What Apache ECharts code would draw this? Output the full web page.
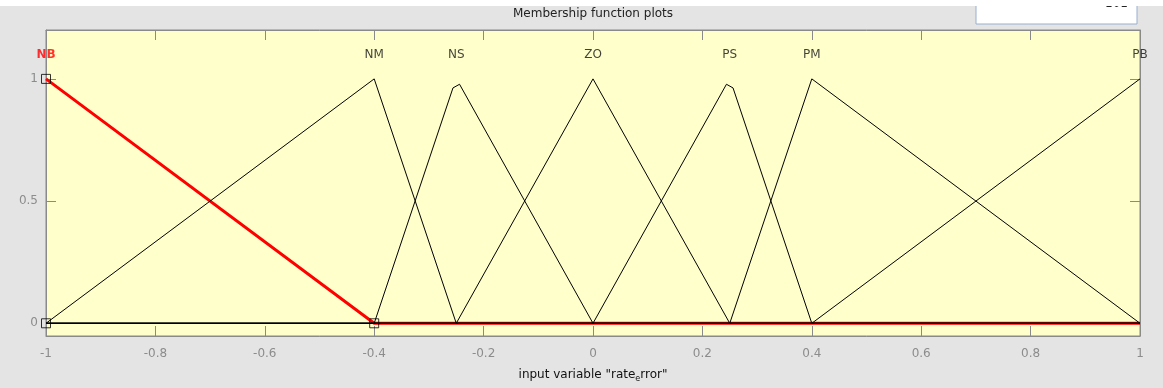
<!DOCTYPE html>
<html>
<head>
<meta charset="utf-8">
<script src="https://cdn.jsdelivr.net/npm/echarts@6/dist/echarts.min.js"></script>
<style>
  html, body { margin: 0; padding: 0; background: #e4e4e4; }
  #chart { width: 1163px; height: 388px; }
</style>
</head>
<body>
<div id="chart"></div>
<script>
// membership functions, [x, mu] vertices
const mfNames = ['NB', 'NM', 'NS', 'ZO', 'PS', 'PM', 'PB']
const mfPeaks = [-1, -0.4, -0.25, 0, 0.25, 0.4, 1]
const nbPoints = [[-1, 1], [-0.4, 0], [1, 0]]
const nmPoints = [[-1, 0], [-0.4, 1], [-0.25, 0], [1, 0]]
const nsPoints = [[-1, 0], [-0.4, 0], [-0.256, 0.963], [-0.244, 0.978], [0, 0], [1, 0]]
const zoPoints = [[-1, 0], [-0.25, 0], [0, 1], [0.25, 0], [1, 0]]
const psPoints = [[-1, 0], [0, 0], [0.244, 0.978], [0.256, 0.963], [0.4, 0], [1, 0]]
const pmPoints = [[-1, 0], [0.25, 0], [0.4, 1], [1, 0]]
const pbPoints = [[-1, 0], [0.4, 0], [1, 1]]
// square handles of the selected function (NB)
const handlePoints = [[-1, 1], [-1, 0], [-0.4, 0]]
const yTicks = [0, 0.5, 1]

const chart = echarts.init(document.getElementById('chart'))
const font = 'DejaVu Sans, Verdana, sans-serif'
const axisGray = '#8a8a8a'

function blackLine(points) {
  return {
    type: 'line',
    data: points,
    symbol: 'none',
    z: 3,
    lineStyle: { color: '#000', width: 1 },
    silent: true
  }
}

function frameAxis(pos, isX) {
  const axis = {
    type: 'value',
    position: pos,
    splitLine: { show: false },
    axisLine: { show: true, onZero: false, lineStyle: { color: axisGray } },
    axisTick: { show: true, inside: true, length: 10, lineStyle: { color: axisGray } },
    axisLabel: { show: false }
  }
  if (isX) {
    axis.min = -1
    axis.max = 1
    axis.interval = 0.2
  } else {
    axis.min = -0.052
    axis.max = 1.2
    axis.axisTick.customValues = yTicks
  }
  return axis
}

const bottomAxis = frameAxis('bottom', true)
bottomAxis.axisLabel = { show: true, color: '#8c8c8c', fontSize: 12, fontFamily: font, margin: 12 }
bottomAxis.name = 'input variable "rate{sub|e}rror"'
bottomAxis.nameLocation = 'middle'
bottomAxis.nameGap = 30
bottomAxis.nameTextStyle = {
  color: '#111',
  fontSize: 12,
  fontFamily: font,
  rich: { sub: { fontSize: 8, fontFamily: font, color: '#111', padding: [9, 0, 0, 0] } }
}

const leftAxis = frameAxis('left', false)
leftAxis.axisLabel = { show: true, color: '#8c8c8c', fontSize: 12, fontFamily: font, margin: 8, customValues: yTicks }

const labelData = mfPeaks.map((x, i) => ({ value: [x, 1.1], name: mfNames[i] }))
labelData[0].label = { color: '#ff0000', fontWeight: 'bold' }

const option = {
  backgroundColor: '#e4e4e4',
  animation: false,
  grid: {
    left: 46,
    right: 23,
    top: 30,
    bottom: 45,
    show: true,
    backgroundColor: '#ffffcc',
    borderColor: axisGray,
    borderWidth: 1
  },
  xAxis: [bottomAxis, frameAxis('top', true)],
  yAxis: [leftAxis, frameAxis('right', false)],
  series: [
    {
      type: 'line',
      data: nbPoints,
      symbol: 'none',
      z: 2,
      lineStyle: { color: '#ff0000', width: 3 },
      silent: true
    },
    blackLine(nmPoints),
    blackLine(nsPoints),
    blackLine(zoPoints),
    blackLine(psPoints),
    blackLine(pmPoints),
    blackLine(pbPoints),
    {
      type: 'scatter',
      data: handlePoints,
      symbol: 'rect',
      symbolSize: 9,
      z: 4,
      clip: false,
      itemStyle: { color: 'rgba(0,0,0,0)', borderColor: '#000', borderWidth: 1 },
      silent: true
    },
    {
      type: 'scatter',
      data: labelData,
      symbol: 'circle',
      symbolSize: 1,
      clip: false,
      z: 5,
      itemStyle: { color: 'rgba(0,0,0,0)' },
      label: {
        show: true,
        position: 'inside',
        formatter: p => p.name,
        fontSize: 12,
        fontFamily: font,
        color: '#111'
      },
      silent: true
    }
  ],
  graphic: [
    {
      type: 'rect',
      shape: { x: 976, y: -2, width: 161, height: 26 },
      style: { fill: '#fff', stroke: '#98aed0', lineWidth: 1 },
      z: 10
    },
    {
      type: 'text',
      x: 1128,
      y: 10,
      style: { text: '101', fill: '#222', font: '12px ' + font, textAlign: 'right', textVerticalAlign: 'bottom' },
      z: 11
    },
    {
      type: 'rect',
      shape: { x: 0, y: 0, width: 1163, height: 6 },
      style: { fill: '#fff' },
      z: 12
    },
    {
      type: 'text',
      x: 593,
      y: 14,
      style: { text: 'Membership function plots', fill: '#222', font: '12px ' + font, textAlign: 'center', textVerticalAlign: 'middle' },
      z: 11
    }
  ]
}

chart.setOption(option)
</script>
</body>
</html>
